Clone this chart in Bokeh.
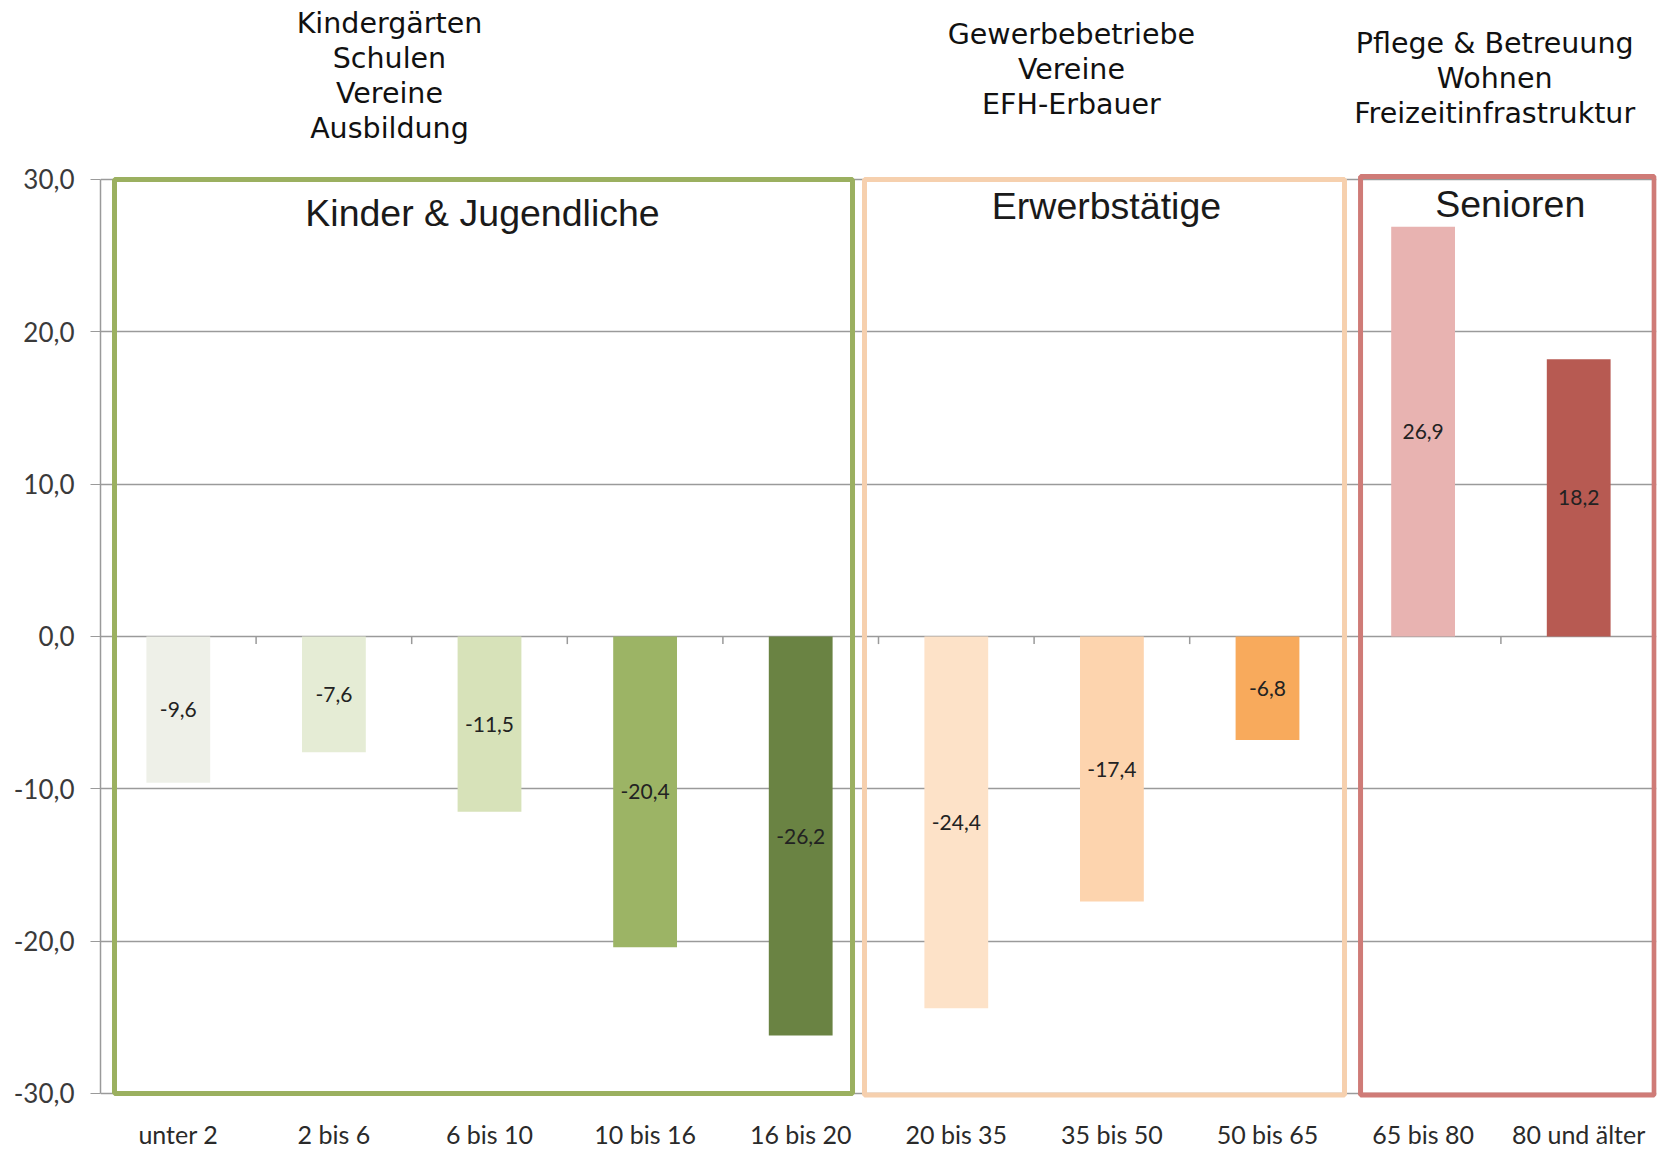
from bokeh.plotting import figure
from bokeh.models import Range1d, FixedTicker, ColumnDataSource
from bokeh.embed import file_html
from bokeh.resources import INLINE
from bokeh.core.properties import value

# ---- data ----
categories = ["unter 2", "2 bis 6", "6 bis 10", "10 bis 16", "16 bis 20",
              "20 bis 35", "35 bis 50", "50 bis 65", "65 bis 80", "80 und älter"]
values = [-9.6, -7.6, -11.5, -20.4, -26.2, -24.4, -17.4, -6.8, 26.9, 18.2]
bar_colors = ["#eef0e8", "#e5ecd5", "#d7e2b9", "#9cb465", "#6a8343",
              "#fde2c8", "#fdd4ae", "#f8aa5c", "#e8b3b1", "#b75a52"]
y_ticks = [-30, -20, -10, 0, 10, 20, 30]
y_tick_labels = ["-30,0", "-20,0", "-10,0", "0,0", "10,0", "20,0", "30,0"]

groups = ["Kinder & Jugendliche", "Erwerbstätige", "Senioren"]
group_notes = [["Kindergärten", "Schulen", "Vereine", "Ausbildung"],
               ["Gewerbebetriebe", "Vereine", "EFH-Erbauer"],
               ["Pflege & Betreuung", "Wohnen", "Freizeitinfrastruktur"]]

# ---- layout constants ----
box_left = [0.09, 4.91, 8.098]
box_right = [4.833, 7.995, 9.985]
box_bottom = [-30.0, -30.1, -30.1]
box_top = [30.0, 30.0, 30.2]
box_colors = ["#9bb060", "#f6d0ae", "#cf7b77"]
box_label_x = [2.455, 6.465, 9.06]
box_label_y = [27.83, 28.23, 28.36]
note_x = [1.857, 6.24, 8.96]
note_top = [40.24, 39.52, 38.93]
note_step = 2.30

p = figure(frame_width=1556, frame_height=1098,
           x_range=Range1d(0, 10), y_range=Range1d(-30.33, 41.75),
           output_backend="svg", toolbar_location=None,
           min_border_left=100, min_border_right=2, min_border_top=0, min_border_bottom=52,
           background_fill_color="white", border_fill_color="white")
p.outline_line_color = None

# grid
p.xgrid.visible = False
p.ygrid.ticker = FixedTicker(ticks=y_ticks)
p.ygrid.grid_line_color = "#9a9a9a"
p.ygrid.grid_line_width = 1.5

# y axis
p.yaxis.ticker = FixedTicker(ticks=y_ticks)
p.yaxis.major_label_overrides = {t: l for t, l in zip(y_ticks, y_tick_labels)}
p.yaxis.bounds = (-30, 30)
p.yaxis.axis_line_color = "#9a9a9a"
p.yaxis.axis_line_width = 1.5
p.yaxis.major_tick_line_color = "#9a9a9a"
p.yaxis.major_tick_out = 10
p.yaxis.major_tick_in = 0
p.yaxis.minor_tick_line_color = None
p.yaxis.major_label_text_font = "Lato"
p.yaxis.major_label_text_font_size = "26px"
p.yaxis.major_label_text_color = "#3a3a3a"
p.yaxis.major_label_standoff = 16

# x axis
xs = [i + 0.5 for i in range(len(categories))]
p.xaxis.ticker = FixedTicker(ticks=xs)
p.xaxis.major_label_overrides = {x: c for x, c in zip(xs, categories)}
p.xaxis.axis_line_color = None
p.xaxis.major_tick_line_color = None
p.xaxis.minor_tick_line_color = None
p.xaxis.major_label_text_font = "Lato"
p.xaxis.major_label_text_font_size = "25px"
p.xaxis.major_label_text_color = "#2a2a2a"
p.xaxis.major_label_standoff = 14

# category boundary ticks on zero line
bx = list(range(1, len(categories)))
p.segment(x0=bx, x1=bx, y0=[0] * len(bx), y1=[-0.5] * len(bx),
          line_color="#9a9a9a", line_width=1.5)

# bars
src = ColumnDataSource(dict(
    x=xs, top=values, bottom=[0] * len(values), color=bar_colors,
    label=[("%.1f" % v).replace(".", ",") for v in values],
    ly=[v / 2 for v in values]))
p.vbar(x="x", top="top", bottom="bottom", width=0.41, fill_color="color",
       line_color=None, source=src)
p.text(x="x", y="ly", text="label", source=src, text_align="center",
       text_baseline="middle", text_font=value("Lato"), text_font_size="21px",
       text_color="#222222")

# group boxes
for i in range(len(groups)):
    p.quad(left=box_left[i], right=box_right[i], bottom=box_bottom[i], top=box_top[i],
           fill_color=None, line_color=box_colors[i], line_width=5)

p.text(x=box_label_x, y=box_label_y, text=groups, text_align="center",
       text_baseline="middle", text_font=value("Liberation Sans"),
       text_font_size="37.5px", text_color="#1a1a1a")

# notes above the chart
nx, ny, nt = [], [], []
for i, lines in enumerate(group_notes):
    for j, line in enumerate(lines):
        nx.append(note_x[i])
        ny.append(note_top[i] - j * note_step)
        nt.append(line)
p.text(x=nx, y=ny, text=nt, text_align="center", text_baseline="middle",
       text_font=value("DejaVu Sans"), text_font_size="28.5px", text_color="#111111")

open("out.html", "w").write(file_html(p, INLINE))
